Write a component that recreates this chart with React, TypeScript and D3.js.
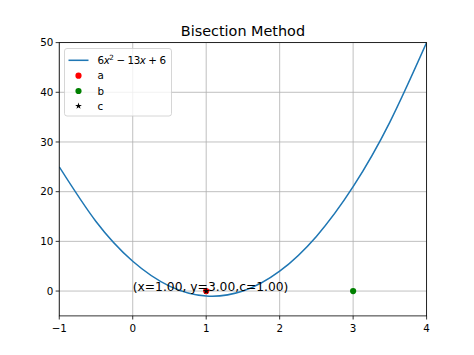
import React from "react";
import * as d3 from "d3";

const curveX = [-1, -0.5, 0, 0.5, 1, 1.5, 2, 2.5, 3, 3.5, 4];
const curveY = [25, 14, 6, 1, -1, 0, 4, 11, 21, 34, 50];
const pointA = [1, 0];
const pointB = [3, 0];
const pointC = [1, 0];
const xTicks = [-1, 0, 1, 2, 3, 4];
const yTicks = [0, 10, 20, 30, 40, 50];
const annotation = "(x=1.00, y=3.00,c=1.00)";
const title = "Bisection Method";

const W = 474, H = 355;
const L = 59.25, R = 426.6, T = 42.6, B = 315.9;

export default function App() {
  const x = d3.scaleLinear().domain([-1, 4]).range([L, R]);
  const y = d3.scaleLinear().domain([-5, 50]).range([B, T]);
  const pts = curveX.map((v, i) => [v, curveY[i]] as [number, number]);
  const line = d3.line<[number, number]>().x(d => x(d[0])).y(d => y(d[1])).curve(d3.curveNatural);
  const star = d3.symbol().type(d3.symbolStar).size(14)();
  const font = "DejaVu Sans, sans-serif";
  return (
    <svg width={W} height={H} style={{ position: "absolute", left: 0, top: 0, background: "#fff" }} fontFamily={font}>
      <defs>
        <clipPath id="clip"><rect x={L} y={T} width={R - L} height={B - T} /></clipPath>
      </defs>
      {xTicks.map(t => (
        <line key={"gx" + t} x1={x(t)} x2={x(t)} y1={T} y2={B} stroke="#b0b0b0" strokeWidth={0.8} />
      ))}
      {yTicks.map(t => (
        <line key={"gy" + t} x1={L} x2={R} y1={y(t)} y2={y(t)} stroke="#b0b0b0" strokeWidth={0.8} />
      ))}
      <path d={line(pts) || ""} fill="none" stroke="#1f77b4" strokeWidth={1.54} clipPath="url(#clip)" />
      <circle cx={x(pointA[0])} cy={y(pointA[1])} r={3.1} fill="#ff0000" />
      <circle cx={x(pointB[0])} cy={y(pointB[1])} r={3.1} fill="#008000" />
      <path d={star || ""} transform={`translate(${x(pointC[0])},${y(pointC[1])})`} fill="#000" />
      <text x={x(0)} y={y(0)} fontSize={12.3} fill="#000">{annotation}</text>
      <rect x={L} y={T} width={R - L} height={B - T} fill="none" stroke="#000" strokeWidth={0.8} />
      {xTicks.map(t => (
        <g key={"tx" + t}>
          <line x1={x(t)} x2={x(t)} y1={B} y2={B + 3.6} stroke="#000" strokeWidth={0.8} />
          <text x={x(t)} y={B + 16} fontSize={10.3} textAnchor="middle">{t < 0 ? "\u2212" + Math.abs(t) : t}</text>
        </g>
      ))}
      {yTicks.map(t => (
        <g key={"ty" + t}>
          <line x1={L - 3.6} x2={L} y1={y(t)} y2={y(t)} stroke="#000" strokeWidth={0.8} />
          <text x={L - 6} y={y(t) + 3.7} fontSize={10.3} textAnchor="end">{t}</text>
        </g>
      ))}
      <text x={(L + R) / 2} y={36} fontSize={14.4} textAnchor="middle">{title}</text>
      <g>
        <rect x={64.5} y={48.5} width={107} height={67.5} rx={2.5} fill="#fff" fillOpacity={0.8} stroke="#cccccc" strokeWidth={0.8} />
        <line x1={68.5} x2={88.5} y1={60.3} y2={60.3} stroke="#1f77b4" strokeWidth={1.54} />
        <text x={97.5} y={64} fontSize={10.3} textLength={68.5} lengthAdjust="spacing">
          6<tspan fontStyle="italic">x</tspan><tspan fontSize={7.2} dy={-4}>2</tspan><tspan dy={4}> {"\u2212"} 13</tspan><tspan fontStyle="italic">x</tspan> + 6
        </text>
        <circle cx={78.5} cy={75.7} r={3.1} fill="#ff0000" />
        <text x={97.5} y={79.4} fontSize={10.3}>a</text>
        <circle cx={78.5} cy={91} r={3.1} fill="#008000" />
        <text x={97.5} y={94.7} fontSize={10.3}>b</text>
        <path d={star || ""} transform={`translate(78.5,106)`} fill="#000" />
        <text x={97.5} y={109.7} fontSize={10.3}>c</text>
      </g>
    </svg>
  );
}
